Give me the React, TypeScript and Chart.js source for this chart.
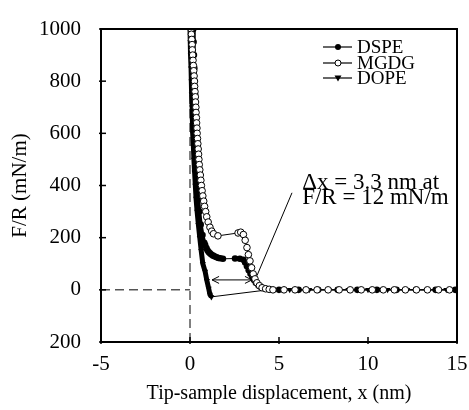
import React, { useEffect, useRef } from "react";
import { Chart, registerables } from "chart.js";
Chart.register(...registerables);

const xTicks = [-5, 0, 5, 10, 15];
const yTicks = [-200, 0, 200, 400, 600, 800, 1000];
const yTickLabels = ["200", "0", "200", "400", "600", "800", "1000"];
const seriesNames = ["DSPE", "MGDG", "DOPE"];

const dspeX = [0.18, 0.2, 0.22, 0.24, 0.26, 0.28, 0.3, 0.32, 0.34, 0.36, 0.38, 0.4, 0.42, 0.46, 0.52, 0.6, 0.7, 0.8, 0.85, 0.92, 0.98, 1.05, 1.12, 1.2, 1.3, 1.4, 1.5, 1.6, 1.7, 1.85, 2.53, 2.8, 3.0, 3.1, 3.2, 3.3, 3.4, 3.5, 3.6, 3.7, 3.85, 4.0, 4.2, 4.45, 5.0, 6.1, 7.2, 8.3, 9.4, 10.5, 11.6, 12.7, 13.8, 14.9];
const dspeY = [1000, 950, 900, 850, 800, 750, 700, 650, 600, 550, 500, 450, 400, 350, 300, 250, 210, 180, 172, 160, 152, 145, 140, 135, 131, 128, 125, 122, 121, 119, 120, 119, 115, 105, 90, 75, 62, 50, 38, 27, 17, 10, 5, 2, 0, 0, 0, 0, 0, 0, 0, 0, 0, 0];

const mgdgX = [0.06, 0.08, 0.1, 0.12, 0.13, 0.15, 0.17, 0.19, 0.21, 0.23, 0.25, 0.26, 0.28, 0.3, 0.31, 0.33, 0.34, 0.36, 0.37, 0.39, 0.4, 0.42, 0.44, 0.46, 0.48, 0.5, 0.52, 0.55, 0.58, 0.61, 0.64, 0.68, 0.72, 0.77, 0.82, 0.88, 0.94, 1.02, 1.12, 1.22, 1.32, 1.57, 2.7, 2.85, 3.0, 3.1, 3.2, 3.28, 3.37, 3.46, 3.55, 3.65, 3.76, 3.9, 4.05, 4.25, 4.45, 4.66, 5.28, 5.9, 6.52, 7.14, 7.76, 8.38, 9.0, 9.62, 10.24, 10.86, 11.48, 12.1, 12.72, 13.34, 13.96, 14.58];
const mgdgY = [1000, 980, 960, 940, 920, 900, 880, 860, 840, 820, 800, 780, 760, 740, 720, 700, 680, 660, 640, 620, 600, 580, 560, 540, 520, 500, 480, 460, 440, 420, 400, 380, 360, 340, 320, 300, 280, 260, 240, 225, 215, 207, 218, 221, 212, 190, 162, 135, 111, 85, 61, 42, 27, 16, 8, 4, 2, 0, 0, 0, 0, 0, 0, 0, 0, 0, 0, 0, 0, 0, 0, 0, 0, 0];

const dopeX = [0.0, 0.02, 0.04, 0.06, 0.08, 0.1, 0.12, 0.14, 0.16, 0.19, 0.22, 0.26, 0.3, 0.34, 0.4, 0.47, 0.55, 0.63, 0.72, 0.85, 0.95, 1.05, 1.12, 1.2, 4.5, 5.6, 6.7, 7.8, 8.9, 10.0, 11.1, 12.2, 13.3, 14.4];
const dopeY = [1000, 950, 900, 850, 800, 750, 700, 650, 600, 550, 500, 450, 400, 350, 300, 250, 200, 150, 100, 70, 35, 5, -18, -27, 1, 0, 0, 0, 0, 0, 0, 0, 0, 0];

const guideVX = [0, 0];
const guideVY = [-200, 1000];
const guideHX = [-5, 0];
const guideHY = [0, 0];

const arrowX = [1.24, 3.48];
const arrowY = [38, 38];
const leaderX = [3.76, 5.73];
const leaderY = [54, 372];
const noteX = 6.3;
const noteY = [410, 352];
const noteLines = ["\u0394x = 3.3 nm at", "F/R = 12 mN/m"];

const pts = (xs: number[], ys: number[]) => xs.map((x, i) => ({ x, y: ys[i] }));
const FONT = '"Liberation Serif", "Times New Roman", serif';

function drawArrowHead(ctx: CanvasRenderingContext2D, x: number, y: number, dir: number) {
  ctx.beginPath();
  ctx.moveTo(x + dir * 7, y - 3.5);
  ctx.lineTo(x, y);
  ctx.lineTo(x + dir * 7, y + 3.5);
  ctx.stroke();
}

const framePlugin = {
  id: "frame",
  afterDatasetsDraw(chart: any) {
    const { ctx, chartArea: a, scales } = chart;
    const xs = scales.x;
    const ys = scales.y;
    ctx.save();
    ctx.strokeStyle = "#000";
    ctx.fillStyle = "#000";
    ctx.lineWidth = 2;
    ctx.strokeRect(a.left, a.top, a.right - a.left, a.bottom - a.top);
    ctx.lineWidth = 1.5;
    xTicks.forEach((v) => {
      const px = xs.getPixelForValue(v);
      ctx.beginPath();
      ctx.moveTo(px, a.bottom + 2);
      ctx.lineTo(px, a.bottom - 5);
      ctx.stroke();
    });
    yTicks.forEach((v) => {
      const py = ys.getPixelForValue(v);
      ctx.beginPath();
      ctx.moveTo(a.left - 2, py);
      ctx.lineTo(a.left + 5, py);
      ctx.stroke();
    });
    // double arrow
    ctx.lineWidth = 1;
    const ax1 = xs.getPixelForValue(arrowX[0]);
    const ax2 = xs.getPixelForValue(arrowX[1]);
    const ay = ys.getPixelForValue(arrowY[0]);
    ctx.beginPath();
    ctx.moveTo(ax1, ay);
    ctx.lineTo(ax2, ay);
    ctx.stroke();
    drawArrowHead(ctx, ax1, ay, 1);
    drawArrowHead(ctx, ax2, ay, -1);
    // leader line
    ctx.beginPath();
    ctx.moveTo(xs.getPixelForValue(leaderX[0]), ys.getPixelForValue(leaderY[0]));
    ctx.lineTo(xs.getPixelForValue(leaderX[1]), ys.getPixelForValue(leaderY[1]));
    ctx.stroke();
    // note
    ctx.font = "23px " + FONT;
    ctx.textAlign = "left";
    ctx.textBaseline = "middle";
    noteLines.forEach((t, i) => {
      ctx.fillText(t, xs.getPixelForValue(noteX), ys.getPixelForValue(noteY[i]));
    });
    // legend
    const lx = 315;
    const lyy = [39, 55, 70];
    ctx.font = "19px " + FONT;
    seriesNames.forEach((name, i) => {
      const y = lyy[i];
      ctx.lineWidth = 1.2;
      ctx.beginPath();
      ctx.moveTo(lx, y);
      ctx.lineTo(lx + 29, y);
      ctx.stroke();
      const cx = lx + 15;
      ctx.beginPath();
      if (i === 0) {
        ctx.arc(cx, y, 3, 0, Math.PI * 2);
        ctx.fill();
      } else if (i === 1) {
        ctx.arc(cx, y, 3, 0, Math.PI * 2);
        ctx.fillStyle = "#fff";
        ctx.fill();
        ctx.fillStyle = "#000";
        ctx.lineWidth = 1;
        ctx.stroke();
      } else {
        ctx.moveTo(cx - 3.5, y - 2.5);
        ctx.lineTo(cx + 3.5, y - 2.5);
        ctx.lineTo(cx, y + 3.5);
        ctx.closePath();
        ctx.fill();
      }
      ctx.fillText(name, lx + 34, y + 1);
    });
    ctx.restore();
  },
};

export default function App() {
  const ref = useRef<HTMLCanvasElement | null>(null);
  useEffect(() => {
    document.documentElement.style.overflow = "hidden";
    if (!ref.current) return;
    const chart = new Chart(ref.current, {
      type: "scatter",
      data: {
        datasets: [
          {
            label: seriesNames[0],
            data: pts(dspeX, dspeY),
            showLine: true,
            borderColor: "#000",
            backgroundColor: "#000",
            pointRadius: 3.3,
            pointBorderWidth: 0,
            borderWidth: 2,
            segment: {
              borderWidth: (c: any) => (Math.abs(c.p1.parsed.x - c.p0.parsed.x) > 0.4 ? 1 : 4),
            },
            order: 2,
          },
          {
            label: seriesNames[1],
            data: pts(mgdgX, mgdgY),
            showLine: true,
            borderColor: "#000",
            backgroundColor: "#fff",
            pointBackgroundColor: "#fff",
            pointBorderColor: "#000",
            pointRadius: 3.3,
            pointBorderWidth: 1,
            borderWidth: 1,
            order: 1,
          },
          {
            label: seriesNames[2],
            data: pts(dopeX, dopeY),
            showLine: true,
            borderColor: "#000",
            backgroundColor: "#000",
            pointStyle: "triangle",
            rotation: 180,
            pointRadius: 3.5,
            pointBorderWidth: 0,
            borderWidth: 1,
            segment: {
              borderWidth: (c: any) => (c.p1.parsed.x - c.p0.parsed.x > 1 ? 1 : 5),
            },
            order: 3,
          },
          {
            label: "guideV",
            data: pts(guideVX, guideVY),
            showLine: true,
            borderColor: "#000",
            borderWidth: 1,
            borderDash: [9, 5],
            pointRadius: 0,
            order: 10,
          },
          {
            label: "guideH",
            data: pts(guideHX, guideHY),
            showLine: true,
            borderColor: "#000",
            borderWidth: 1,
            borderDash: [9, 5],
            pointRadius: 0,
            order: 10,
          },
        ],
      },
      options: {
        animation: false,
        responsive: true,
        maintainAspectRatio: false,
        layout: { padding: { left: 0, right: 12, top: 21, bottom: 0 } },
        plugins: { legend: { display: false }, tooltip: { enabled: false } },
        scales: {
          x: {
            type: "linear",
            min: -5,
            max: 15,
            afterFit: (s: any) => {
              s.height = 64;
              s.paddingLeft = 0;
              s.paddingRight = 0;
            },
            afterBuildTicks: (s: any) => {
              s.ticks = xTicks.map((v) => ({ value: v }));
            },
            grid: { display: false, drawTicks: false },
            border: { display: false },
            ticks: { color: "#000", padding: 10, font: { family: FONT, size: 21 } },
            title: {
              display: true,
              text: "Tip-sample displacement, x (nm)",
              color: "#000",
              padding: { top: 0, bottom: 0 },
              font: { family: FONT, size: 20 },
            },
          },
          y: {
            type: "linear",
            min: -200,
            max: 1000,
            afterFit: (s: any) => {
              s.width = 93;
              s.paddingTop = 0;
              s.paddingBottom = 0;
            },
            afterBuildTicks: (s: any) => {
              s.ticks = yTicks.map((v) => ({ value: v }));
            },
            grid: { display: false, drawTicks: false },
            border: { display: false },
            ticks: {
              color: "#000",
              padding: 20,
              font: { family: FONT, size: 21 },
              callback: (v: any) => {
                const i = yTicks.indexOf(Number(v));
                return i >= 0 ? yTickLabels[i] : "";
              },
            },
            title: {
              display: true,
              text: "F/R (mN/m)",
              color: "#000",
              padding: { top: 0, bottom: 0 },
              font: { family: FONT, size: 21 },
            },
          },
        },
      },
      plugins: [framePlugin],
    });
    return () => chart.destroy();
  }, []);
  return (
    <div style={{ position: "absolute", left: 8, top: 8, width: 461, height: 398 }}>
      <canvas ref={ref} />
    </div>
  );
}
